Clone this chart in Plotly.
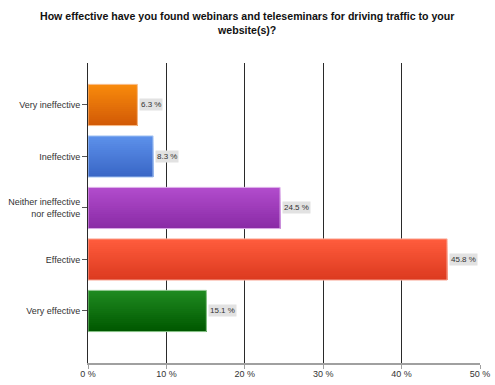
import plotly.graph_objects as go

categories = ["Very ineffective", "Ineffective", "Neither ineffective<br>nor effective", "Effective", "Very effective"]
values = [6.3, 8.3, 24.5, 45.8, 15.1]
labels = ["6.3 %", "8.3 %", "24.5 %", "45.8 %", "15.1 %"]
top_colors = ["#F88A0C", "#5C90EA", "#B14CCC", "#FF5C3C", "#1F8A20"]
bottom_colors = ["#D25A06", "#3A67C6", "#8A2BA6", "#DC3A20", "#005800"]
edge_colors = ["#F8C090", "#B0CCF4", "#DDB0EA", "#FAB0A0", "#90C890"]
x_ticks = [0, 10, 20, 30, 40, 50]

pos = list(range(len(categories)))


def hex2rgb(h):
    h = h.lstrip("#")
    return [int(h[i:i + 2], 16) for i in (0, 2, 4)]


def mix(a, b, t):
    ra, rb = hex2rgb(a), hex2rgb(b)
    return "rgb({},{},{})".format(*[round(ra[k] + (rb[k] - ra[k]) * t) for k in range(3)])


fig = go.Figure()
n = 20
bar_w = 0.8
for i in range(n):
    t = i / (n - 1)
    start = -bar_w / 2 + i * bar_w / n
    fig.add_trace(go.Bar(
        x=values, y=pos, orientation="h", width=bar_w / 2 - start,
        offset=start,
        marker=dict(color=[mix(a, b, t) for a, b in zip(top_colors, bottom_colors)], line=dict(width=0)),
        hoverinfo="skip", showlegend=False,
    ))
# outline
fig.add_trace(go.Bar(
    x=values, y=pos, orientation="h", width=bar_w, offset=-bar_w / 2,
    marker=dict(color="rgba(0,0,0,0)", line=dict(color=edge_colors, width=1)),
    hoverinfo="skip", showlegend=False,
))

for p, v, t in zip(pos, values, labels):
    fig.add_annotation(x=v, y=p, text=t, showarrow=False, xanchor="left", xshift=2,
                       bgcolor="#E2E2E2", borderpad=1,
                       font=dict(size=8, color="#333333", family="Liberation Sans"))

fig.add_annotation(
    text="<b>How effective have you found webinars and teleseminars for driving traffic to your<br>website(s)?</b>",
    xref="paper", yref="paper", x=(247 - 88) / 392, y=1 + (63 - 23) / 300,
    xanchor="center", yanchor="middle", showarrow=False, align="center",
    font=dict(size=10.6, color="#111111", family="Liberation Sans, Arial"))

fig.update_layout(
    width=495, height=385,
    margin=dict(l=88, r=15, t=63, b=22),
    paper_bgcolor="white", plot_bgcolor="white",
    font=dict(family="Liberation Sans, Arial", size=9, color="#333333"),
    barmode="overlay",
)
fig.update_xaxes(range=[0, 50], tickvals=x_ticks, ticktext=[f"{t} %" for t in x_ticks],
                 showgrid=True, gridcolor="#2a2a2a", gridwidth=1,
                 showline=True, linecolor="#a0a0a0", linewidth=2,
                 ticks="outside", ticklen=4, tickcolor="#a0a0a0",
                 ticklabelstandoff=-3,
                 tickfont=dict(size=9, color="#333333"), zeroline=False, fixedrange=True,
                 automargin=False)
fig.update_yaxes(range=[5.01, -0.815], tickvals=pos, ticktext=categories,
                 showgrid=False, showline=True, linecolor="#2a2a2a", linewidth=1,
                 ticks="outside", ticklen=5, tickcolor="#555555",
                 tickfont=dict(size=9, color="#333333"), zeroline=False, fixedrange=True,
                 automargin=False)

fig.write_html("out.html", config={"displayModeBar": False},
               post_script="document.body.style.margin='0';document.body.style.overflow='hidden';")
